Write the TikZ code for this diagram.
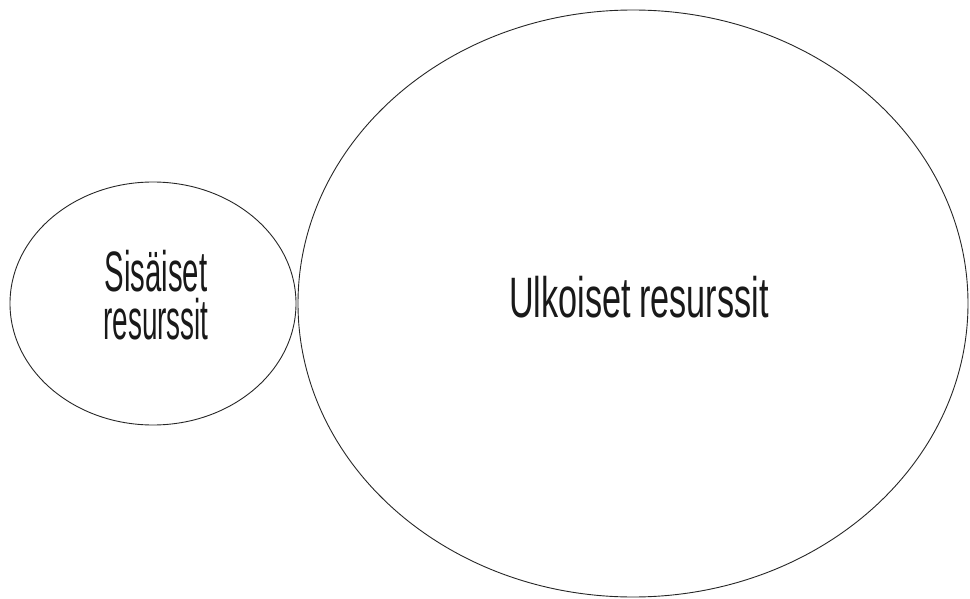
\documentclass[tikz,border=0pt]{standalone}
\usepackage{fontspec}
\setmainfont{Liberation Sans}
\usepackage{graphicx}
\begin{document}
\begin{tikzpicture}[x=1pt,y=-1pt,
  ring/.style={draw=black!85,line width=0.9pt},
  lbl/.style={inner sep=0pt,font=\fontsize{57}{48}\selectfont,text=black!90}]
\useasboundingbox (0,0) rectangle (970,599);
\draw[ring] (153,303.5) ellipse [x radius=143, y radius=121.5];
\draw[ring] (633,303.5) ellipse [x radius=335, y radius=293.5];
\node[lbl,anchor=base,text depth=0pt] (u) at (639,317) {\scalebox{0.6}[1]{Ulkoiset\hspace{0.25em}resurssit}};
\node[lbl,anchor=north,align=center] (s) at (156,250.4) {\scalebox{0.515}[1]{Sisäiset}\\\scalebox{0.49}[1]{resurssit}};
\end{tikzpicture}
\end{document}
